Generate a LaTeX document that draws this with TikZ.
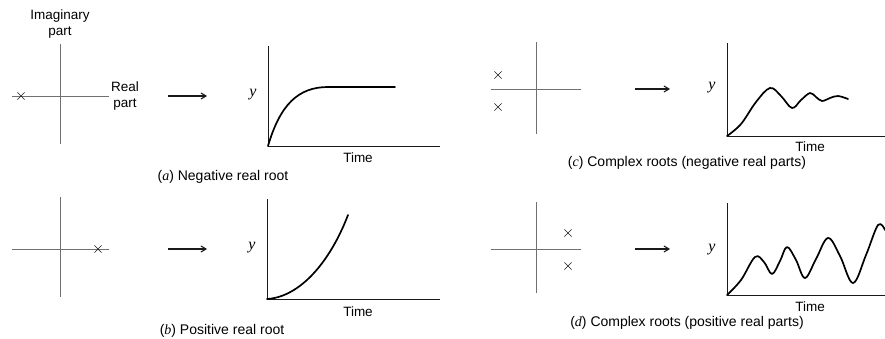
\documentclass[tikz,border=0pt]{standalone}
\usepackage{fontspec}
\setmainfont{Liberation Sans}
\newfontfamily\serifit[ItalicFont=* Italic]{Liberation Serif}
\usetikzlibrary{arrows.meta,positioning,shapes.misc}
\definecolor{axgray}{HTML}{707070}
\definecolor{inkdark}{HTML}{1A1A1A}
\newcommand{\varit}[1]{{\serifit\itshape #1}}
\tikzset{
  splane/.style={draw=axgray,line width=0.6pt},
  taxis/.style={draw=inkdark,line width=0.7pt},
  resp/.style={draw=black,line width=1.7pt,line cap=round,line join=round},
  pole/.style={cross out,draw=inkdark,line width=0.6pt,inner sep=0pt,minimum size=6.5pt},
  maps/.style={-{Straight Barb[length=5pt,width=6pt]},draw=inkdark,line width=1.1pt},
  lbl/.style={inner sep=0pt,font=\fontsize{13.5}{15.5}\selectfont,align=center},
  ylab/.style={inner sep=0pt,font=\fontsize{16}{16}\selectfont},
  capt/.style={inner sep=0pt,font=\fontsize{14}{16}\selectfont},
}
\begin{document}
\begin{tikzpicture}[x=1pt,y=-1pt]
\useasboundingbox (0,0) rectangle (885,339);
% s-plane axes
\foreach \n/\x/\l/\r/\yc/\t/\b in {a/60/12/109/96/44/144, b/60/12/109/249/197/297, c/536/491/581/89/42/134, d/536/491/581/249/202/293} {
  \draw[splane] (\x,\t) -- (\x,\b);
  \draw[splane] (\l,\yc) -- (\r,\yc);
}
\node[lbl] (imag) at (60,24) {Imaginary\\part};
\node[lbl] (real) at (125,96) {Real\\part};
% poles
\node[pole] (pa) at (21,96) {};
\node[pole] (pb) at (98,249) {};
\node[pole] (pc1) at (498,75) {};
\node[pole] (pc2) at (498,107) {};
\node[pole] (pd1) at (568,233) {};
\node[pole] (pd2) at (568,266) {};
% mapping arrows
\coordinate (fa) at (168,96);  \coordinate (ta) at (207,96);
\coordinate (fb) at (168,249); \coordinate (tb) at (207,249);
\coordinate (fc) at (635,89);  \coordinate (tc) at (670,89);
\coordinate (fd) at (635,249); \coordinate (td) at (670,249);
\foreach \n in {a,b,c,d} \draw[maps] (f\n) -- (t\n);
% response axes
\foreach \n/\x/\t/\b/\e/\yl/\tx/\ty in {a/268/46/146/440/95/358/158, b/267/199/299/440/248/358/312, c/727/43/136/885/88/810/147, d/727/203/295/885/250/810/307} {
  \coordinate (o\n) at (\x,\b);
  \draw[taxis] (\x,\t) -- (o\n) -- (\e,\b);
  \node[ylab] (y\n) at (\x-15,\yl) {\varit{y}};
  \node[lbl] (time\n) at (\tx,\ty) {Time};
}
% responses
\draw[resp] (oa) .. controls (280,105) and (298,87) .. (328,87) -- (395,87);
\draw[resp] (ob) .. controls (300,297) and (330,262) .. (348,215);
\draw[resp] plot[smooth,tension=0.6] coordinates {(727,136) (741,124) (756,102) (770,88) (781,96) (792,108) (801,100) (810,93) (816,97) (822,101) (830,98) (838,96) (848,99)};
\draw[resp] plot[smooth,tension=0.6] coordinates {(727,295) (741,280) (755,257) (764,262) (772,274) (780,261) (787,247) (796,260) (805,278) (816,259) (828,238) (840,256) (853,283) (866,255) (878,225) (885,230)};
% captions
\node[capt] (capa) at (223,177) {(\varit{a}) Negative real root};
\node[capt] (capb) at (222,331) {(\varit{b}) Positive real root};
\node[capt] (capc) at (687,163) {(\varit{c}) Complex roots (negative real parts)};
\node[capt] (capd) at (687,323) {(\varit{d}) Complex roots (positive real parts)};
\end{tikzpicture}
\end{document}
